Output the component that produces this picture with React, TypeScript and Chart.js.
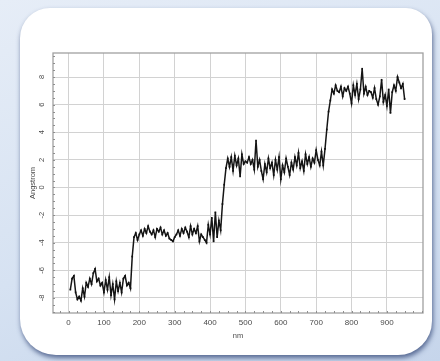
import React, { useEffect, useRef } from "react";
import { Chart, registerables } from "chart.js";

Chart.register(...registerables);

// Position along the scan (nm)
const positionNm = [
  5, 10, 15, 20, 25, 30, 35, 40, 45, 50, 55, 60, 65, 70, 75, 80, 85, 90, 95, 100,
  105, 110, 115, 120, 125, 130, 135, 140, 145, 150, 155, 160, 165, 170, 175, 180, 185, 190, 195, 200,
  205, 210, 215, 220, 225, 230, 235, 240, 245, 250, 255, 260, 265, 270, 275, 280, 285, 290, 295, 300,
  305, 310, 315, 320, 325, 330, 335, 340, 345, 350, 355, 360, 365, 370, 375, 380, 385, 390, 395, 400,
  405, 410, 415, 420, 425, 430, 435, 440, 445, 450, 455, 460, 465, 470, 475, 480, 485, 490, 495, 500,
  505, 510, 515, 520, 525, 530, 535, 540, 545, 550, 555, 560, 565, 570, 575, 580, 585, 590, 595, 600,
  605, 610, 615, 620, 625, 630, 635, 640, 645, 650, 655, 660, 665, 670, 675, 680, 685, 690, 695, 700,
  705, 710, 715, 720, 725, 730, 735, 740, 745, 750, 755, 760, 765, 770, 775, 780, 785, 790, 795, 800,
  805, 810, 815, 820, 825, 830, 835, 840, 845, 850, 855, 860, 865, 870, 875, 880, 885, 890, 895, 900,
  905, 910, 915, 920, 925, 930, 935, 940, 945, 950,
];

// Measured height (Angstrom)
const heightAngstrom = [
  -7.4, -6.6, -6.4, -7.6, -8.1, -7.9, -8.2, -7.3, -7.9, -6.9, -7.2, -6.6, -7.0, -6.2, -5.9, -6.8, -6.6, -7.1, -6.9, -7.6,
  -6.7, -7.4, -6.5, -7.8, -7.0, -8.1, -6.8, -7.5, -6.9, -7.6, -6.6, -6.4, -7.1, -6.9, -7.3, -5.0, -3.6, -3.3, -3.8, -3.4,
  -3.1, -3.5, -3.0, -3.3, -2.8, -3.2, -3.4, -3.1, -3.6, -3.0, -3.2, -2.9, -3.4, -3.1, -3.5, -3.3, -3.7, -3.8, -3.9, -3.6,
  -3.4, -3.1, -3.5, -3.0, -3.3, -2.9, -3.2, -3.6, -2.8, -3.4, -3.0, -3.3, -2.8, -3.9, -3.4, -3.6, -3.8, -4.0, -2.7, -3.4,
  -2.2, -3.9, -1.8, -3.6, -2.4, -3.1, -1.2, 0.2, 1.4, 2.1, 1.5, 2.2, 1.2, 2.3, 1.6, 2.1, 0.8, 2.4, 1.7, 1.9,
  1.8, 2.2, 1.7, 2.0, 1.3, 3.4, 1.5, 2.0, 1.2, 0.6, 1.7, 1.1, 2.1, 1.4, 1.8, 0.9, 2.0, 1.3, 2.2, 0.6,
  1.6, 1.1, 2.1, 1.5, 0.9, 1.8, 1.3, 2.2, 1.6, 2.5, 1.4, 1.9, 1.2, 2.4, 1.7, 2.2, 1.5, 2.1, 1.8, 2.7,
  2.0, 1.6, 2.6, 1.6, 2.8, 4.2, 5.5, 6.3, 7.1, 6.8, 7.4, 7.0, 6.9, 7.3, 6.6, 7.2, 7.0, 7.3, 6.8, 6.1,
  7.4, 6.7, 7.5, 6.4, 7.1, 8.6, 6.8, 7.3, 6.7, 7.0, 6.9, 6.5, 7.2, 6.4, 6.0, 6.6, 7.8, 6.2, 6.7, 5.9,
  7.1, 5.4, 6.9, 7.4, 7.0, 8.0, 7.6, 7.2, 7.5, 6.4,
];

const xTickValues = [0, 100, 200, 300, 400, 500, 600, 700, 800, 900];
const yTickValues = [-8, -6, -4, -2, 0, 2, 4, 6, 8];

const xTitle = "nm";
const yTitle = "Angstrom";

const TICK_COLOR = "#4a4a4a";
const GRID_COLOR = "#d2d2d2";
const FONT_FAMILY = "'Liberation Sans', Arial, sans-serif";

// Frame, rotated y tick labels and small minor ticks along the axes
const framePlugin = {
  id: "frame",
  afterDraw(chart: any) {
    const { ctx, chartArea, scales } = chart;
    const { left, top, right, bottom } = chartArea;
    ctx.save();
    ctx.strokeStyle = "#a0a0a0";
    ctx.lineWidth = 1.3;
    ctx.strokeRect(left, top, right - left, bottom - top);

    // minor tick marks
    ctx.strokeStyle = "#8e8e8e";
    ctx.lineWidth = 1;
    for (let v = -9; v <= 9.5; v += 0.5) {
      const py = Math.round(scales.y.getPixelForValue(v)) + 0.5;
      if (py < top || py > bottom) continue;
      ctx.beginPath();
      ctx.moveTo(left, py);
      ctx.lineTo(left + 2, py);
      ctx.stroke();
    }
    for (let v = -25; v <= 1000; v += 25) {
      const px = Math.round(scales.x.getPixelForValue(v)) + 0.5;
      if (px < left || px > right) continue;
      ctx.beginPath();
      ctx.moveTo(px, bottom);
      ctx.lineTo(px, bottom - 2);
      ctx.stroke();
    }

    // y tick labels, rotated
    ctx.fillStyle = TICK_COLOR;
    ctx.font = `7.5px ${FONT_FAMILY}`;
    ctx.textAlign = "center";
    ctx.textBaseline = "middle";
    for (const v of yTickValues) {
      const py = scales.y.getPixelForValue(v);
      ctx.save();
      ctx.translate(42, py);
      ctx.rotate(-Math.PI / 2);
      ctx.fillText(String(v), 0, 0);
      ctx.restore();
    }
    ctx.restore();
  },
};

export default function App() {
  const canvasRef = useRef<HTMLCanvasElement | null>(null);

  useEffect(() => {
    if (!canvasRef.current) return;
    const points = positionNm.map((x, i) => ({ x, y: heightAngstrom[i] }));
    const chart = new Chart(canvasRef.current, {
      type: "line",
      data: {
        datasets: [
          {
            data: points,
            borderColor: "#151515",
            borderWidth: 1.5,
            backgroundColor: "#101010",
            pointRadius: 1.2,
            pointStyle: "rect",
            pointBorderWidth: 0,
            tension: 0,
          },
        ],
      },
      options: {
        responsive: false,
        animation: false,
        layout: { padding: { left: 0, top: 53, right: 17, bottom: 0 } },
        plugins: { legend: { display: false }, tooltip: { enabled: false } },
        scales: {
          x: {
            type: "linear",
            min: -44,
            max: 1002,
            afterBuildTicks: (scale: any) => {
              scale.ticks = xTickValues.map((value) => ({ value }));
            },
            afterFit: (scale: any) => {
              scale.height = 48;
            },
            grid: { color: GRID_COLOR, lineWidth: 1, drawTicks: false },
            border: { display: false },
            ticks: {
              color: TICK_COLOR,
              font: { size: 8, family: FONT_FAMILY },
              padding: 5,
              maxRotation: 0,
            },
            title: {
              display: true,
              text: xTitle,
              color: TICK_COLOR,
              font: { size: 7.5, family: FONT_FAMILY },
              padding: { top: 0, bottom: 21 },
            },
          },
          y: {
            type: "linear",
            min: -9.09,
            max: 9.74,
            afterBuildTicks: (scale: any) => {
              scale.ticks = yTickValues.map((value) => ({ value }));
            },
            afterFit: (scale: any) => {
              scale.width = 53;
            },
            grid: { color: GRID_COLOR, lineWidth: 1, drawTicks: false },
            border: { display: false },
            ticks: { display: false },
            title: {
              display: true,
              text: yTitle,
              color: TICK_COLOR,
              font: { size: 7.5, family: FONT_FAMILY },
              padding: { top: 28, bottom: 0 },
            },
          },
        },
      },
      plugins: [framePlugin],
    });
    return () => chart.destroy();
  }, []);

  return (
    <div
      style={{
        position: "fixed",
        left: 0,
        top: 0,
        width: 440,
        height: 361,
        overflow: "hidden",
        background: "linear-gradient(160deg, #e6edf7 0%, #d6e2f2 55%, #c6d5eb 100%)",
      }}
    >
      <div
        style={{
          position: "absolute",
          left: 20,
          top: 8,
          width: 412,
          height: 347,
          background: "#ffffff",
          borderRadius: "30px 26px 34px 36px",
          boxShadow: "1px 3px 5px rgba(45, 65, 115, 0.75)",
        }}
      />
      <canvas
        ref={canvasRef}
        width={440}
        height={361}
        style={{ position: "absolute", left: 0, top: 0, width: 440, height: 361 }}
      />
    </div>
  );
}
